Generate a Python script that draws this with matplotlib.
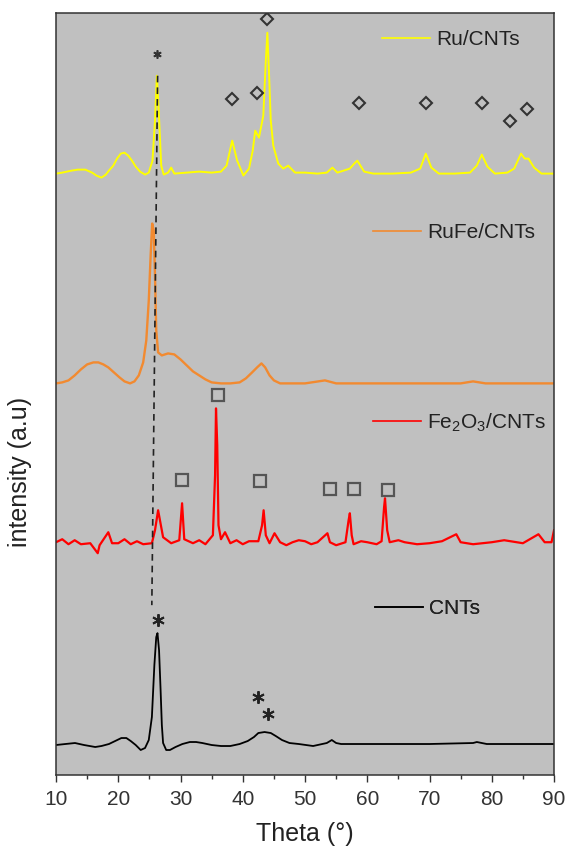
import matplotlib
matplotlib.use("Agg")
import matplotlib.pyplot as plt
from matplotlib.lines import Line2D
import numpy as np

plt.rcParams["font.family"] = ["Liberation Sans", "DejaVu Sans"]
plt.rcParams["mathtext.fontset"] = "custom"
plt.rcParams["mathtext.rm"] = "Liberation Sans"

# XRD patterns: (theta, intensity in a.u.)
ru_cnt = [(10, 602), (11, 603), (12.5, 605), (13.5, 606), (14.7, 606), (15.8, 603),
          (16.5, 600), (17.3, 598), (18, 601), (18.5, 605), (19.2, 610), (19.8, 617),
          (20.4, 622), (21, 623), (21.6, 620), (22.2, 615), (22.8, 609), (23.5, 604),
          (24.3, 601), (24.9, 603), (25.5, 615), (25.9, 655), (26.2, 700), (26.5, 665),
          (26.9, 610), (27.3, 601), (28, 603), (28.5, 608), (29, 602), (31, 603),
          (33, 604), (35, 603), (36.5, 604), (37.4, 610), (38.3, 635), (39.1, 615),
          (40.1, 600), (41.0, 607), (41.6, 625), (42.0, 645), (42.6, 638), (43.3, 660),
          (43.7, 715), (43.95, 743), (44.2, 705), (44.5, 655), (44.9, 630), (45.7, 612),
          (46.5, 607), (47.3, 610), (48.4, 603), (50, 603), (52, 602), (53.5, 603),
          (54.4, 608), (55.2, 603), (56.2, 605), (57.2, 607), (57.9, 612), (58.4, 615),
          (59, 609), (59.5, 604), (61, 602), (64, 602), (67, 603), (68.5, 607),
          (69.4, 622), (70.3, 608), (71.5, 602), (74, 602), (76.5, 603), (77.6, 610),
          (78.4, 621), (79.3, 609), (80.5, 602), (82.5, 603), (83.6, 607), (84.7, 622),
          (85.3, 617), (85.9, 617), (86.8, 608), (88, 602), (90, 602)]

rufe_cnt = [(10, 392), (11, 393), (12, 395), (13, 400), (14, 406), (15, 411),
            (16, 413), (16.8, 413), (17.6, 411), (18.4, 408), (19.3, 403), (20.2, 398),
            (21, 394), (21.9, 392), (22.6, 394), (23.3, 400), (24.0, 413), (24.5, 435),
            (24.9, 475), (25.2, 520), (25.45, 552), (25.7, 545), (25.9, 500), (26.1, 445),
            (26.4, 423), (27, 420), (28, 422), (29, 421), (30, 416), (31, 410),
            (32, 404), (33, 400), (34, 396), (35, 393), (36.5, 392), (38, 392),
            (39.5, 393), (40.5, 397), (41.5, 403), (42.3, 408), (43, 412), (43.6, 408),
            (44.3, 400), (45, 395), (46, 392), (48, 392), (50, 392), (53.2, 395),
            (55, 392), (60, 392), (65, 392), (70, 392), (75, 392), (77, 394),
            (79, 392), (85, 392), (90, 392)]

fe2o3_cnt = [(10, 233), (11, 236), (12, 231), (13, 235), (14, 231), (15.5, 232),
             (16.7, 222), (17, 230), (18.4, 243), (19, 232), (20, 232), (21, 236),
             (22, 231), (23, 234), (24, 231), (25.4, 232), (25.9, 245), (26.4, 265),
             (27.2, 238), (28.5, 232), (29.8, 235), (30.25, 272), (30.6, 236), (32, 232),
             (33, 235), (34, 231), (35.2, 240), (35.55, 300), (35.7, 367), (35.9, 330),
             (36.1, 250), (36.5, 236), (37.15, 243), (38, 232), (39, 235), (40, 231),
             (41, 234), (42.5, 234), (43.1, 250), (43.35, 265), (43.7, 240), (44.3, 232),
             (45.1, 242), (46, 233), (47, 230), (48, 233), (49, 235), (50, 234),
             (51, 231), (52, 233), (53.6, 242), (54, 233), (55, 230), (56.5, 233),
             (57.0, 255), (57.2, 262), (57.5, 240), (57.8, 231), (59, 234), (60, 233),
             (61.5, 231), (62.3, 234), (62.7, 268), (62.85, 277), (63.2, 245), (63.6, 233),
             (65, 235), (66, 233), (68, 231), (70, 232), (72, 234), (74.3, 241),
             (75, 233), (77, 231), (80, 233), (82, 235), (85, 232), (87.5, 241),
             (88.5, 233), (89.6, 233), (90, 245)]

cnt = [(10, 30), (11.5, 31), (13.05, 32), (14.5, 30), (16.3, 28), (17.3, 29),
       (18.5, 31), (19.5, 34), (20.5, 37), (21.3, 37), (22, 34), (22.8, 30),
       (23.6, 25), (24.3, 27), (24.9, 35), (25.4, 58), (25.8, 110), (26.1, 138),
       (26.3, 142), (26.55, 125), (26.8, 85), (27.0, 50), (27.2, 32), (27.7, 25),
       (28.3, 25), (29.2, 28), (30.3, 31), (31.5, 33), (32.5, 33), (33.5, 32),
       (35, 30), (36.5, 29), (38, 29), (39.5, 31), (40.8, 34), (41.8, 38),
       (42.5, 42), (43.5, 43), (44.5, 42), (45.3, 39), (46.3, 35), (47.5, 32),
       (49, 31), (51.3, 29), (53.5, 32), (54.3, 35), (55, 32), (55.8, 31),
       (60, 31), (65, 31), (70, 31), (77, 32), (77.6, 33), (79.2, 31),
       (85, 31), (90, 31)]

# phase markers
ru_diamonds = [(38.3, 677), (42.3, 683), (43.95, 757), (58.6, 673),
               (69.5, 673), (78.5, 673), (83.0, 655), (85.6, 667)]
fe_squares = [(36.1, 380), (30.3, 295), (42.8, 294), (54.0, 286), (57.8, 286), (63.3, 285)]
c_stars = [(26.4, 155), (42.4, 78), (44.1, 61)]
ru_small_star = [(26.2, 722)]
guide_x = [26.32, 25.39]
guide_y = [700, 170]

series = [
    ("Ru/CNTs", ru_cnt, "#ffff00", 1.4, (0.654, 0.965)),
    ("RuFe/CNTs", rufe_cnt, "#f28a30", 1.7, (0.636, 0.712)),
    (r"Fe$_\mathregular{2}$O$_\mathregular{3}$/CNTs", fe2o3_cnt, "#ff0000", 1.6, (0.636, 0.462)),
    ("CNTs", cnt, "#000000", 1.3, (0.641, 0.218)),
]

fig = plt.figure(figsize=(5.67, 8.52), dpi=100)
ax = fig.add_axes([0.0988, 0.0904, 0.8783, 0.8946])
ax.set_facecolor("#c0c0c0")

for label, pts, color, lw, anchor in series:
    arr = np.array(pts)
    ax.plot(arr[:, 0], arr[:, 1], color=color, lw=lw)
    leg = ax.legend([Line2D([], [], color=color, lw=1.2)], [label],
                    loc="center left", bbox_to_anchor=anchor, frameon=False,
                    fontsize=15, handlelength=2.3, handletextpad=0.3,
                    borderpad=0, borderaxespad=0, labelcolor="#222222")
    ax.add_artist(leg)

ax.plot(guide_x, guide_y, color="#222222", lw=1.2, ls=(0, (4, 3)), zorder=5)

d = np.array(ru_diamonds)
ax.plot(d[:, 0], d[:, 1], ls="none", marker="D", ms=6.5, mfc="none",
        mec="#333333", mew=1.5)
s = np.array(fe_squares)
ax.plot(s[:, 0], s[:, 1], ls="none", marker="s", ms=8, mfc="none",
        mec="#555555", mew=1.6)
c = np.array(c_stars)
ax.plot(c[:, 0], c[:, 1], ls="none", marker=(6, 2, 0), ms=9,
        mec="#222222", mew=1.4)
r = np.array(ru_small_star)
ax.plot(r[:, 0], r[:, 1], ls="none", marker=(6, 2, 0), ms=6,
        mec="#333333", mew=1.2)

ax.set_xlim(10, 90)
ax.set_ylim(0, 763)
ax.set_xticks(np.arange(10, 91, 10))
ax.set_xticks(np.arange(15, 90, 10), minor=True)
ax.set_yticks([])
ax.tick_params(axis="x", which="major", direction="out", length=5, width=1,
               labelsize=15, colors="#333333", pad=6)
ax.tick_params(axis="x", which="minor", direction="out", length=3, width=1,
               colors="#333333")
for sp in ax.spines.values():
    sp.set_color("#333333")
    sp.set_linewidth(1.1)

ax.set_xlabel("Theta (°)", fontsize=18, color="#222222")
ax.xaxis.set_label_coords(0.5, -0.062)
fig.text(20 / 567, 0.446, "intensity (a.u)", rotation=90, fontsize=18,
         color="#222222", ha="center", va="center")

fig.savefig("out.png", dpi=100)
